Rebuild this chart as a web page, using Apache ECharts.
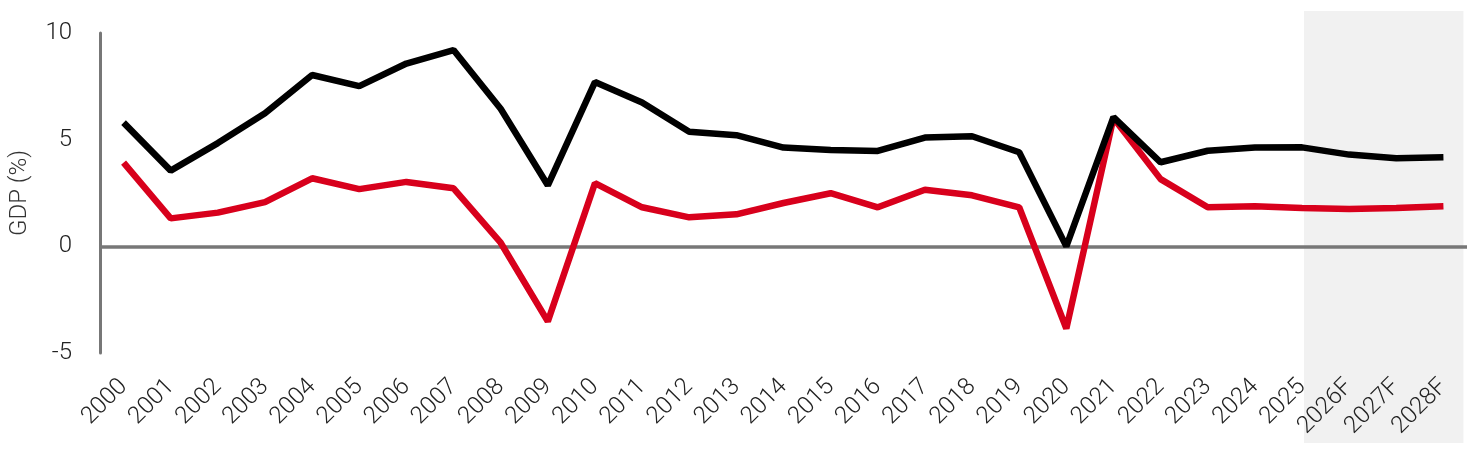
<!DOCTYPE html>
<html>
<head>
<meta charset="utf-8">
<script src="https://cdn.jsdelivr.net/npm/echarts@6/dist/echarts.min.js"></script>
<style>
  html, body { margin: 0; padding: 0; background: #fff; }
  #chart { width: 1472px; height: 449px; }
</style>
</head>
<body>
<div id="chart"></div>
<script>
var years = ['2000','2001','2002','2003','2004','2005','2006','2007','2008','2009',
  '2010','2011','2012','2013','2014','2015','2016','2017','2018','2019',
  '2020','2021','2022','2023','2024','2025','2026F','2027F','2028F'];
// black line
var blackSeries = [5.8, 3.55, 4.84, 6.24, 8.03, 7.51, 8.57, 9.2, 6.45, 2.86,
  7.7, 6.74, 5.37, 5.21, 4.63, 4.52, 4.47, 5.1, 5.16, 4.41,
  0.0, 6.06, 3.94, 4.48, 4.63, 4.64, 4.3, 4.13, 4.18];
// red line
var redSeries = [3.92, 1.31, 1.58, 2.07, 3.19, 2.68, 3.02, 2.72, 0.17, -3.52,
  2.96, 1.83, 1.36, 1.5, 2.03, 2.49, 1.83, 2.65, 2.39, 1.83,
  -3.85, 6.02, 3.15, 1.83, 1.88, 1.8, 1.75, 1.8, 1.88];
var yTicks = [-5, 0, 5, 10];
var forecastStart = '2025';

var font = 'Roboto, "Liberation Sans", sans-serif';

var option = {
    animation: false,
    grid: {
        left: 100,
        right: 5,
        top: 33,
        bottom: 96
    },
    xAxis: {
        type: 'category',
        data: years,
        boundaryGap: true,
        axisLine: { show: false, onZero: false },
        axisTick: { show: false },
        axisLabel: {
            rotate: 45,
            margin: 30,
            interval: 0,
            fontSize: 24,
            fontWeight: 300,
            fontFamily: font,
            color: '#222'
        },
        splitLine: { show: false }
    },
    yAxis: {
        type: 'value',
        min: yTicks[0],
        max: yTicks[yTicks.length - 1],
        interval: 5,
        name: 'GDP (%)',
        nameLocation: 'middle',
        nameGap: 68,
        nameTextStyle: { fontSize: 24, fontWeight: 300, fontFamily: font, color: '#333' },
        axisLine: { show: true, lineStyle: { color: '#777', width: 3 } },
        axisTick: { show: false },
        axisLabel: {
            margin: 28,
            fontSize: 24,
            fontWeight: 300,
            fontFamily: font,
            color: '#222'
        },
        splitLine: { show: false }
    },
    series: [
        {
            name: 'red',
            type: 'line',
            data: redSeries,
            symbol: 'none',
            lineStyle: { color: '#d8001c', width: 6.5 },
            z: 3,
            markLine: {
                silent: true,
                symbol: 'none',
                label: { show: false },
                lineStyle: { color: '#777', width: 3.5, type: 'solid' },
                data: [{ yAxis: 0 }],
                z: 1
            }
        },
        {
            name: 'black',
            type: 'line',
            data: blackSeries,
            symbol: 'none',
            lineStyle: { color: '#000', width: 6.5 },
            z: 4
        }
    ]
};

var myChart = echarts.init(document.getElementById('chart'));
myChart.setOption(option);

// shaded forecast band, positioned from the axis scale
var x0 = myChart.convertToPixel({ xAxisIndex: 0 }, forecastStart);
var x1 = myChart.convertToPixel({ xAxisIndex: 0 }, years[years.length - 1]);
myChart.setOption({
    graphic: [{
        type: 'rect',
        z: -10,
        silent: true,
        shape: { x: x0 + 2, y: 11, width: (x1 + 20) - (x0 + 2), height: 432 },
        style: { fill: '#f1f1f1' }
    }]
});
</script>
</body>
</html>
